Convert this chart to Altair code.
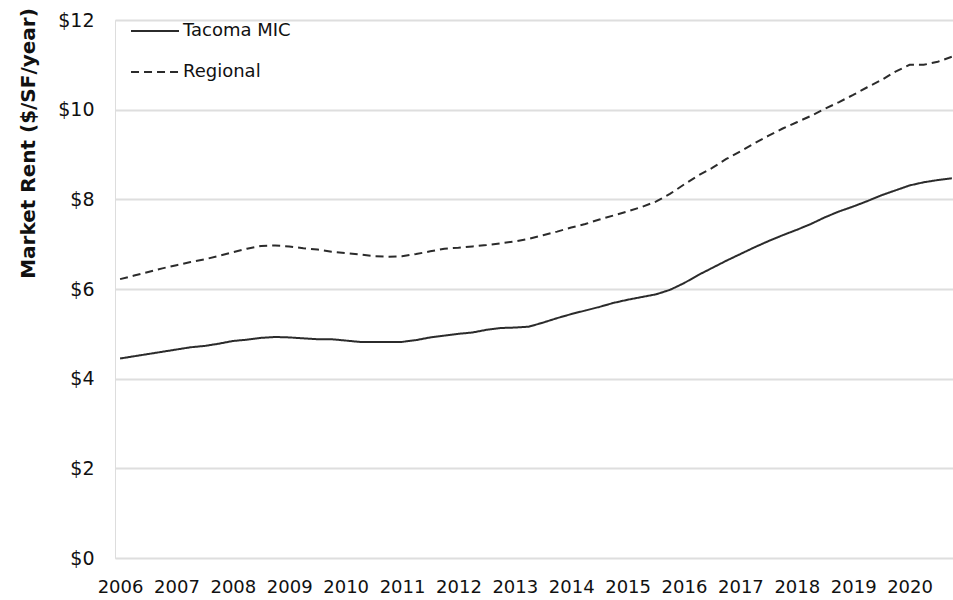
import altair as alt
import pandas as pd

years = [2006 + q / 4 for q in range(60)]

tacoma = [
    4.45, 4.50, 4.55, 4.60,
    4.65, 4.70, 4.73, 4.78,
    4.84, 4.87, 4.91, 4.93,
    4.92, 4.90, 4.88, 4.88,
    4.85, 4.82, 4.82, 4.82,
    4.82, 4.86, 4.92, 4.96,
    5.00, 5.03, 5.09, 5.13,
    5.14, 5.16, 5.25, 5.35,
    5.44, 5.52, 5.60, 5.69,
    5.76, 5.82, 5.88, 5.98,
    6.13, 6.31, 6.47, 6.63,
    6.78, 6.93, 7.07, 7.20,
    7.32, 7.45, 7.60, 7.73,
    7.84, 7.96, 8.09, 8.20,
    8.31, 8.38, 8.43, 8.47,
]

regional = [
    6.22, 6.30, 6.38, 6.46,
    6.53, 6.60, 6.66, 6.74,
    6.82, 6.90, 6.96, 6.97,
    6.95, 6.91, 6.88, 6.83,
    6.80, 6.77, 6.73, 6.72,
    6.73, 6.78, 6.84, 6.90,
    6.92, 6.95, 6.98, 7.02,
    7.06, 7.12, 7.20, 7.28,
    7.37, 7.45, 7.55, 7.64,
    7.73, 7.83, 7.95, 8.12,
    8.33, 8.53, 8.70, 8.90,
    9.07, 9.25, 9.42, 9.58,
    9.72, 9.86, 10.02, 10.17,
    10.33, 10.50, 10.66, 10.85,
    11.00, 11.00, 11.07, 11.18,
]

series_names = ["Tacoma MIC", "Regional"]
year_ticks = list(range(2006, 2021))
rent_ticks = [0, 2, 4, 6, 8, 10, 12]

df = pd.concat([
    pd.DataFrame({"year": years, "rent": tacoma, "series": series_names[0]}),
    pd.DataFrame({"year": years, "rent": regional, "series": series_names[1]}),
])

FONT = "DejaVu Sans"

chart = alt.Chart(df).mark_line(strokeWidth=2, color="#2b2b2b").encode(
    x=alt.X(
        "year:Q",
        scale=alt.Scale(domain=[2005.91, 2020.77], nice=False, zero=False),
        axis=alt.Axis(
            values=year_ticks, format="d", grid=False, ticks=False, domain=False,
            labelFontSize=18, labelColor="#111111", labelPadding=20,
            labelFont=FONT, title=None, labelOverlap=False,
        ),
    ),
    y=alt.Y(
        "rent:Q",
        scale=alt.Scale(domain=[0, 12], nice=False),
        axis=alt.Axis(
            values=rent_ticks, format="$d", grid=True, gridColor="#dedede",
            gridWidth=2, ticks=False, domain=False, labelFontSize=19,
            labelColor="#111111", labelPadding=21, labelFont=FONT,
            title="Market Rent ($/SF/year)", titleFont=FONT, titleFontSize=20,
            titleFontWeight="bold", titleColor="#111111", titleAngle=270,
            titleX=-87, titleY=123, titleAlign="center", titleBaseline="middle",
        ),
    ),
    strokeDash=alt.StrokeDash(
        "series:N",
        scale=alt.Scale(domain=series_names, range=[[1, 0], [8, 5]]),
        legend=alt.Legend(
            title=None, orient="none", legendX=15, legendY=-14,
            symbolType="stroke", symbolSize=2300, symbolStrokeWidth=2,
            symbolStrokeColor="#2b2b2b", labelFontSize=18, labelFont=FONT,
            labelColor="#111111", rowPadding=7, labelOffset=3,
        ),
    ),
    detail="series:N",
).properties(
    width=838, height=538,
    autosize=alt.AutoSizeParams(type="none"),
    padding={"left": 115, "top": 20, "right": 0, "bottom": 42},
).configure_view(stroke=None).configure(background="white")

chart.save("out.html", embed_options={"renderer": "svg", "actions": False})
